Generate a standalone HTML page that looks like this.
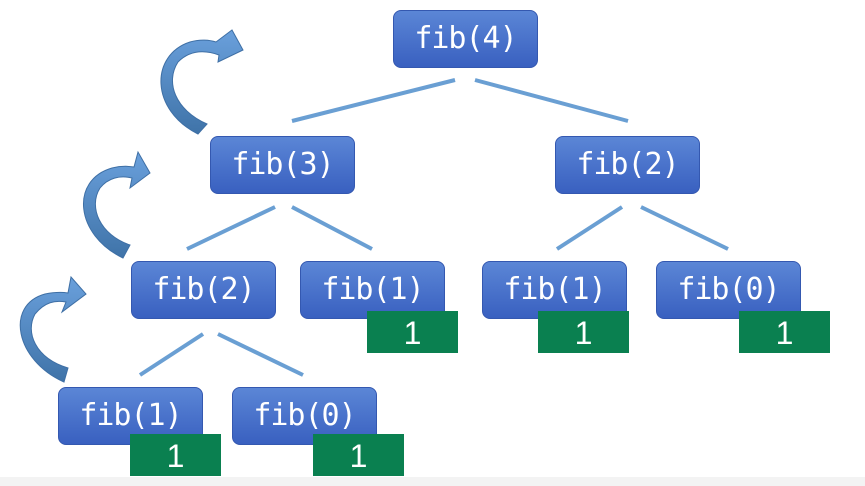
<!DOCTYPE html>
<html><head><meta charset="utf-8"><style>
body{margin:0;width:865px;height:486px;background:#fff;position:relative;overflow:hidden;font-family:"DejaVu Sans Mono","Liberation Mono",monospace}
.node{position:absolute;width:145px;height:58px;border-radius:8px;background:linear-gradient(#5b86d6,#3960c0);border:1px solid #3458b0;box-sizing:border-box;color:#fff;font-size:30px;line-height:56px;text-align:center;letter-spacing:-1px}
.val{position:absolute;width:91px;height:42px;background:#0a8050;color:#fff;font-family:"Liberation Sans",sans-serif;font-size:32px;line-height:44px;text-align:center}
svg{position:absolute;left:0;top:0}
</style></head><body>
<div style="position:absolute;left:0;top:477px;width:865px;height:9px;background:#f3f3f3"></div>
<svg width="865" height="486">
<defs><linearGradient id="ag" x1="0" y1="0" x2="0" y2="1"><stop offset="0" stop-color="#6aa0dc"/><stop offset="1" stop-color="#3f73a8"/></linearGradient></defs>
<g stroke="#6a9fd3" stroke-width="4">
<line x1="292" y1="121" x2="455" y2="80"/><line x1="475" y1="80" x2="628" y2="121"/>
<line x1="187" y1="249" x2="275" y2="207"/><line x1="292" y1="207" x2="372" y2="249"/>
<line x1="557" y1="249" x2="622" y2="207"/><line x1="641" y1="207" x2="728" y2="249"/>
<line x1="140" y1="375" x2="203" y2="334"/><line x1="218" y1="334" x2="303" y2="375"/>
</g>
<g fill="url(#ag)" stroke="#3e6fa5" stroke-width="1">
<path d="M198,134 C150,110 150,55 190,42 C200,39 210,40 216,42 L232,30 L243,50 L218,62 L219,55 C205,50 190,50 178,62 C165,82 175,110 207,124 Z"/>
<path d="M123,258 C75,235 70,180 112,168 C120,166 128,166 134,167 L138,152 L150,173 L130,188 L132,178 C120,175 108,178 100,188 C88,207 100,235 130,245 Z"/>
<path d="M64,382 C15,360 5,305 45,294 C55,292 62,292 68,293 L71,277 L86,294 L62,312 L66,302 C55,300 45,302 35,314 C25,332 35,358 68,368 Z"/>
</g>
</svg>
<div class="node" style="left:393px;top:10px">fib(4)</div>
<div class="node" style="left:210px;top:136px">fib(3)</div>
<div class="node" style="left:555px;top:136px">fib(2)</div>
<div class="node" style="left:131px;top:261px">fib(2)</div>
<div class="node" style="left:300px;top:261px">fib(1)</div>
<div class="node" style="left:482px;top:261px">fib(1)</div>
<div class="node" style="left:656px;top:261px">fib(0)</div>
<div class="node" style="left:58px;top:387px">fib(1)</div>
<div class="node" style="left:232px;top:387px">fib(0)</div>
<div class="val" style="left:367px;top:311px">1</div>
<div class="val" style="left:538px;top:311px">1</div>
<div class="val" style="left:739px;top:311px">1</div>
<div class="val" style="left:130px;top:434px">1</div>
<div class="val" style="left:313px;top:434px">1</div>
</body></html>
